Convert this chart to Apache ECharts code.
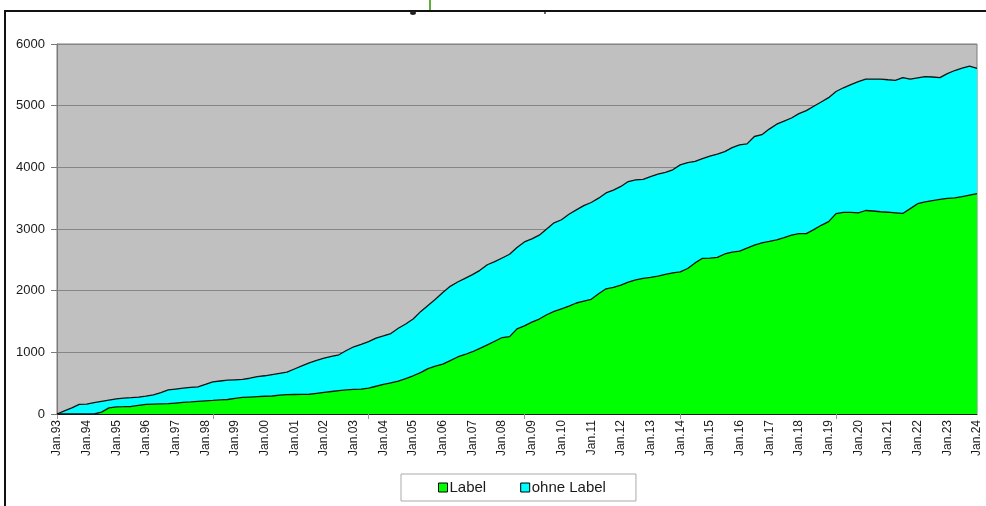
<!DOCTYPE html>
<html>
<head>
<meta charset="utf-8">
<script src="https://cdn.jsdelivr.net/npm/echarts@6/dist/echarts.min.js"></script>
<style>
html,body{margin:0;padding:0;background:#fff;}
#chart{width:986px;height:506px;}
</style>
</head>
<body>
<div id="chart"></div>
<script>
// Quarterly categories Jan.93 ... Jan.24
const years = ['93','94','95','96','97','98','99','00','01','02','03','04','05','06','07','08','09','10','11','12','13','14','15','16','17','18','19','20','21','22','23'];
const months = ['Jan.','Apr.','Jul.','Okt.'];
const categories = [];
years.forEach(y => months.forEach(m => categories.push(m + y)));
categories.push('Jan.24');

// Bestand mit Label (green, lower area)
const labelValues = [
  0,0,0,0, 0,0,30,100, 115,118,122,140, 155,160,164,168,
  178,188,195,205, 213,220,228,235, 255,268,275,282, 288,292,305,313,
  316,318,320,335, 350,365,378,390, 398,405,420,450, 480,505,535,575,
  620,670,735,775, 810,865,925,965, 1010,1065,1120,1180, 1240,1255,1380,1430,
  1490,1540,1610,1665, 1705,1750,1800,1830, 1860,1950,2030,2055, 2090,2140,2175,2200,
  2215,2235,2265,2290, 2305,2360,2450,2525, 2527,2540,2595,2625, 2640,2690,2740,2775,
  2798,2825,2860,2900, 2925,2925,2990,3060, 3120,3250,3268,3268, 3262,3300,3292,3280,
  3272,3262,3252,3330, 3410,3440,3460,3480, 3495,3505,3525,3550, 3575
];

// Gesamtbestand = Label + ohne Label (top of cyan area)
const totalValues = [
  0,50,100,155, 160,185,205,225, 245,258,265,275, 290,310,345,390,
  405,420,432,440, 480,522,535,548, 555,562,580,605, 620,640,660,680,
  730,780,830,870, 905,935,960,1030, 1090,1130,1175,1230, 1265,1305,1390,1460,
  1540,1660,1760,1860, 1970,2070,2140,2200, 2260,2330,2420,2470, 2530,2590,2700,2790,
  2840,2900,3000,3100, 3150,3240,3310,3380, 3430,3500,3585,3630, 3690,3770,3795,3805,
  3850,3890,3920,3960, 4040,4075,4095,4140, 4180,4215,4255,4320, 4365,4380,4500,4530,
  4620,4700,4750,4800, 4870,4920,4990,5060, 5130,5230,5290,5340, 5390,5430,5432,5432,
  5420,5410,5455,5430, 5450,5470,5465,5455, 5520,5570,5610,5640, 5605
];

const yTicks = { min: 0, max: 6000, interval: 1000 };
const seriesNames = ['Label', 'ohne Label'];

const chart = echarts.init(document.getElementById('chart'), null, {renderer: 'canvas'});
const font = 'Liberation Sans, Arial, sans-serif';

chart.setOption({
  animation: false,
  backgroundColor: '#ffffff',
  grid: {
    left: 57, right: 9, top: 44, bottom: 92,
    show: true, backgroundColor: '#c0c0c0', borderColor: '#7a7a7a', borderWidth: 1
  },
  legend: {
    data: seriesNames,
    left: 401, top: 474,
    padding: [6, 30, 6, 37],
    borderColor: '#aaaaaa', borderWidth: 1,
    icon: 'rect', itemWidth: 9, itemHeight: 9, itemGap: 34,
    itemStyle: {borderColor: '#000', borderWidth: 1},
    textStyle: {fontFamily: font, fontSize: 15, color: '#1a1a1a', padding: [0,0,0,-3]}
  },
  xAxis: {
    type: 'category',
    data: categories,
    boundaryGap: false,
    axisLine: {lineStyle: {color: '#1a1a1a', width: 1}},
    axisTick: {show: true, length: 5, lineStyle: {color: '#999'}, interval: function (i) { return i % 21 === 0; }},
    axisLabel: {
      interval: 3, rotate: 90, margin: 6,
      fontFamily: font, fontSize: 12, color: '#1a1a1a'
    },
    splitLine: {show: false}
  },
  yAxis: {
    type: 'value',
    min: yTicks.min, max: yTicks.max, interval: yTicks.interval,
    axisLine: {show: true, lineStyle: {color: '#7a7a7a'}},
    axisTick: {show: true, length: 6, lineStyle: {color: '#7a7a7a'}},
    axisLabel: {margin: 12, fontFamily: font, fontSize: 13, color: '#1a1a1a',
      formatter: function (v) { return String(v); }},
    splitLine: {show: true, lineStyle: {color: '#858585', width: 1}}
  },
  series: [
    {
      name: 'ohne Label', type: 'line', data: totalValues,
      symbol: 'none', showSymbol: false, z: 2,
      itemStyle: {color: '#00ffff'},
      lineStyle: {color: '#111', width: 1.3},
      areaStyle: {color: '#00ffff', opacity: 1}
    },
    {
      name: 'Label', type: 'line', data: labelValues,
      symbol: 'none', showSymbol: false, z: 3,
      itemStyle: {color: '#00ff00'},
      lineStyle: {color: '#111', width: 1.3},
      areaStyle: {color: '#00ff00', opacity: 1}
    }
  ],
  graphic: [
    {type: 'rect', shape: {x: 5, y: 11, width: 1100, height: 700},
     style: {fill: null, stroke: '#111', lineWidth: 2}, z: 10},
    {type: 'line', shape: {x1: 430, y1: 0, x2: 430, y2: 10},
     style: {stroke: '#5fae3a', lineWidth: 2}, z: 10},
    {type: 'ellipse', shape: {cx: 413, cy: 13, rx: 3, ry: 2},
     style: {fill: '#222'}, z: 10},
    {type: 'circle', shape: {cx: 545, cy: 13, r: 1},
     style: {fill: '#333'}, z: 10}
  ]
});
</script>
</body>
</html>
